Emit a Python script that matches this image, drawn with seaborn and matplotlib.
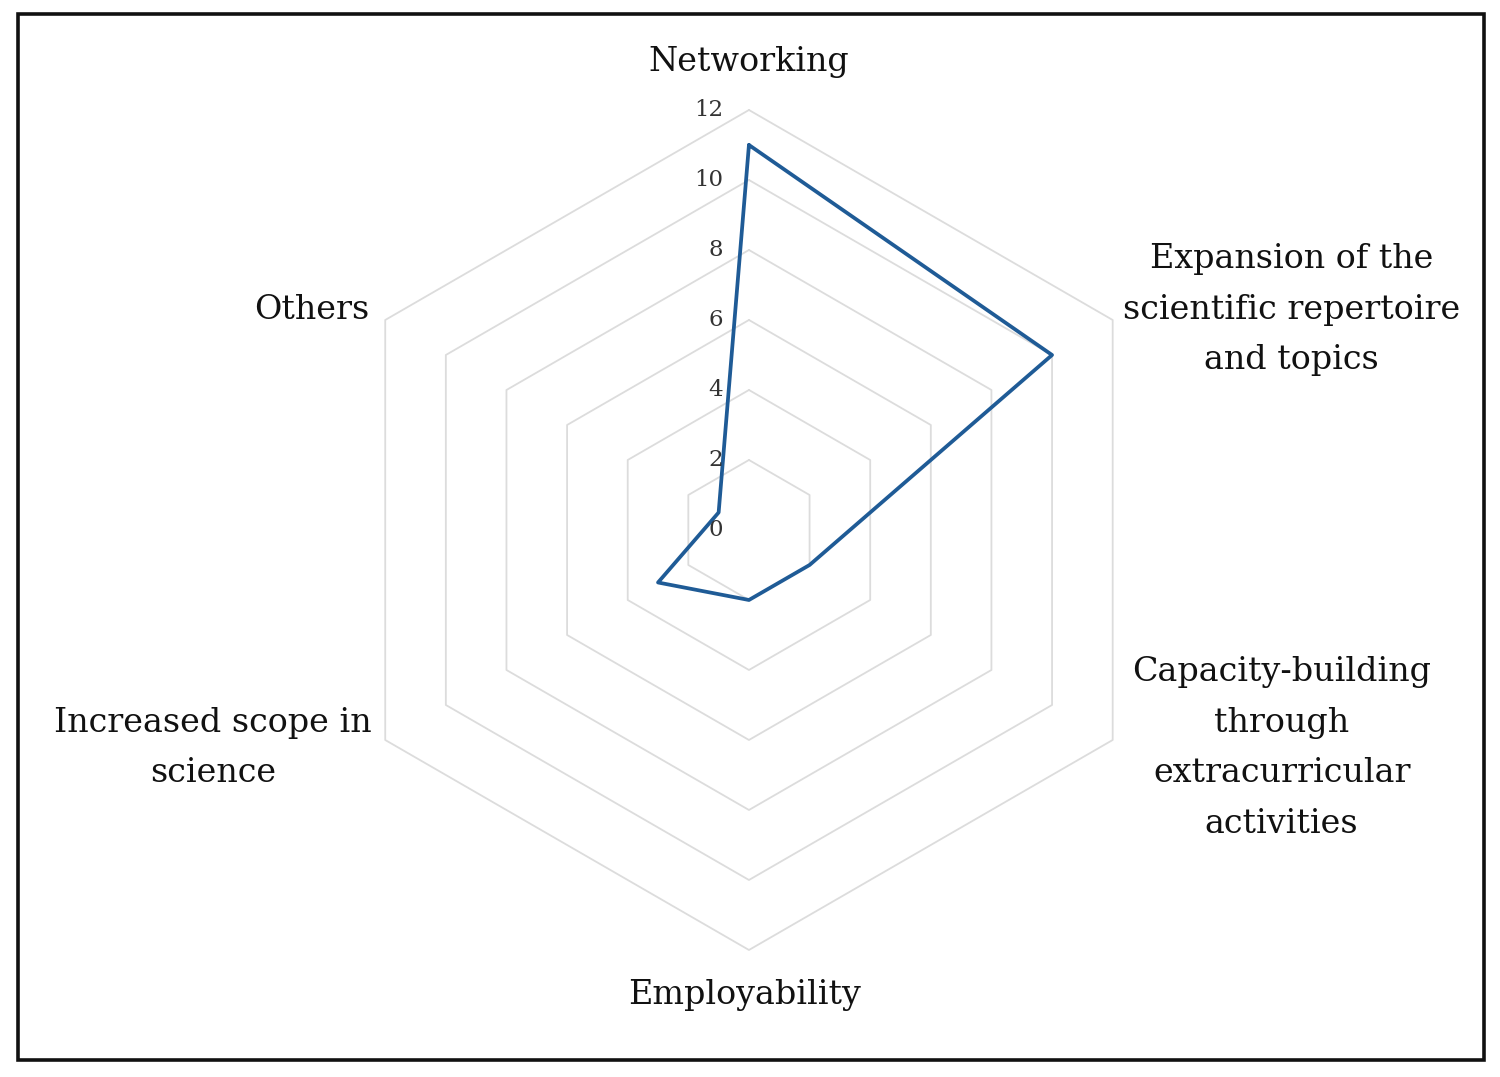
import matplotlib.pyplot as plt
import numpy as np
import pandas as pd
import seaborn as sns
from matplotlib.patches import Rectangle

categories = [
    "Networking",
    "Expansion of the\nscientific repertoire\nand topics",
    "Capacity-building\nthrough\nextracurricular\nactivities",
    "Employability",
    "Increased scope in\nscience",
    "Others",
]
values = [11, 10, 2, 2, 3, 1]
levels = [0, 2, 4, 6, 8, 10, 12]

# label offsets from the outer vertex, in pixels
label_offsets = [(0, 48), (179, 10), (169, -8), (-4, -45), (-172, -8), (-73, 10)]

LINE_COLOR = "#1f5b96"
GRID_COLOR = "#dcdcdc"

sns.set_theme(style="white")
plt.rcParams["font.family"] = ["DejaVu Serif"]

angles = np.linspace(0, 2 * np.pi, len(categories), endpoint=False)
df = pd.DataFrame({"angle": np.append(angles, angles[0]),
                   "value": values + values[:1]})

fig = plt.figure(figsize=(15, 10.77), dpi=100)
ax = fig.add_axes([0.2193, 0.1179, 0.56, 0.78], projection="polar")
ax.set_theta_offset(np.pi / 2)
ax.set_theta_direction(-1)
ax.set_ylim(0, levels[-1])
ax.grid(False)
ax.spines["polar"].set_visible(False)
ax.set_xticks([])
ax.set_yticks([])
ax.patch.set_alpha(0)

closed = np.append(angles, angles[0])
for lev in levels[1:]:
    ax.plot(closed, [lev] * len(closed), color=GRID_COLOR, lw=1.3, zorder=1, clip_on=False)

sns.lineplot(data=df, x="angle", y="value", sort=False, ax=ax, color=LINE_COLOR,
             lw=2.7, zorder=3, estimator=None)
ax.set_xlabel("")
ax.set_ylabel("")

for lev in levels:
    ax.annotate(str(lev), xy=(0, lev), xytext=(-26, 0), textcoords="offset pixels",
                ha="right", va="center", fontsize=16.5, color="#333333")

for ang, cat, off in zip(angles, categories, label_offsets):
    ax.annotate(cat, xy=(ang, levels[-1]), xytext=off, textcoords="offset pixels",
                ha="center", va="center", multialignment="center",
                fontsize=24, color="#111111", linespacing=1.74)

fig.patches.append(Rectangle((0.012, 0.0158), 0.9773, 0.9712, transform=fig.transFigure,
                             fill=False, edgecolor="#111111", lw=2.6))

fig.savefig("out.png", dpi=100, facecolor="white")
